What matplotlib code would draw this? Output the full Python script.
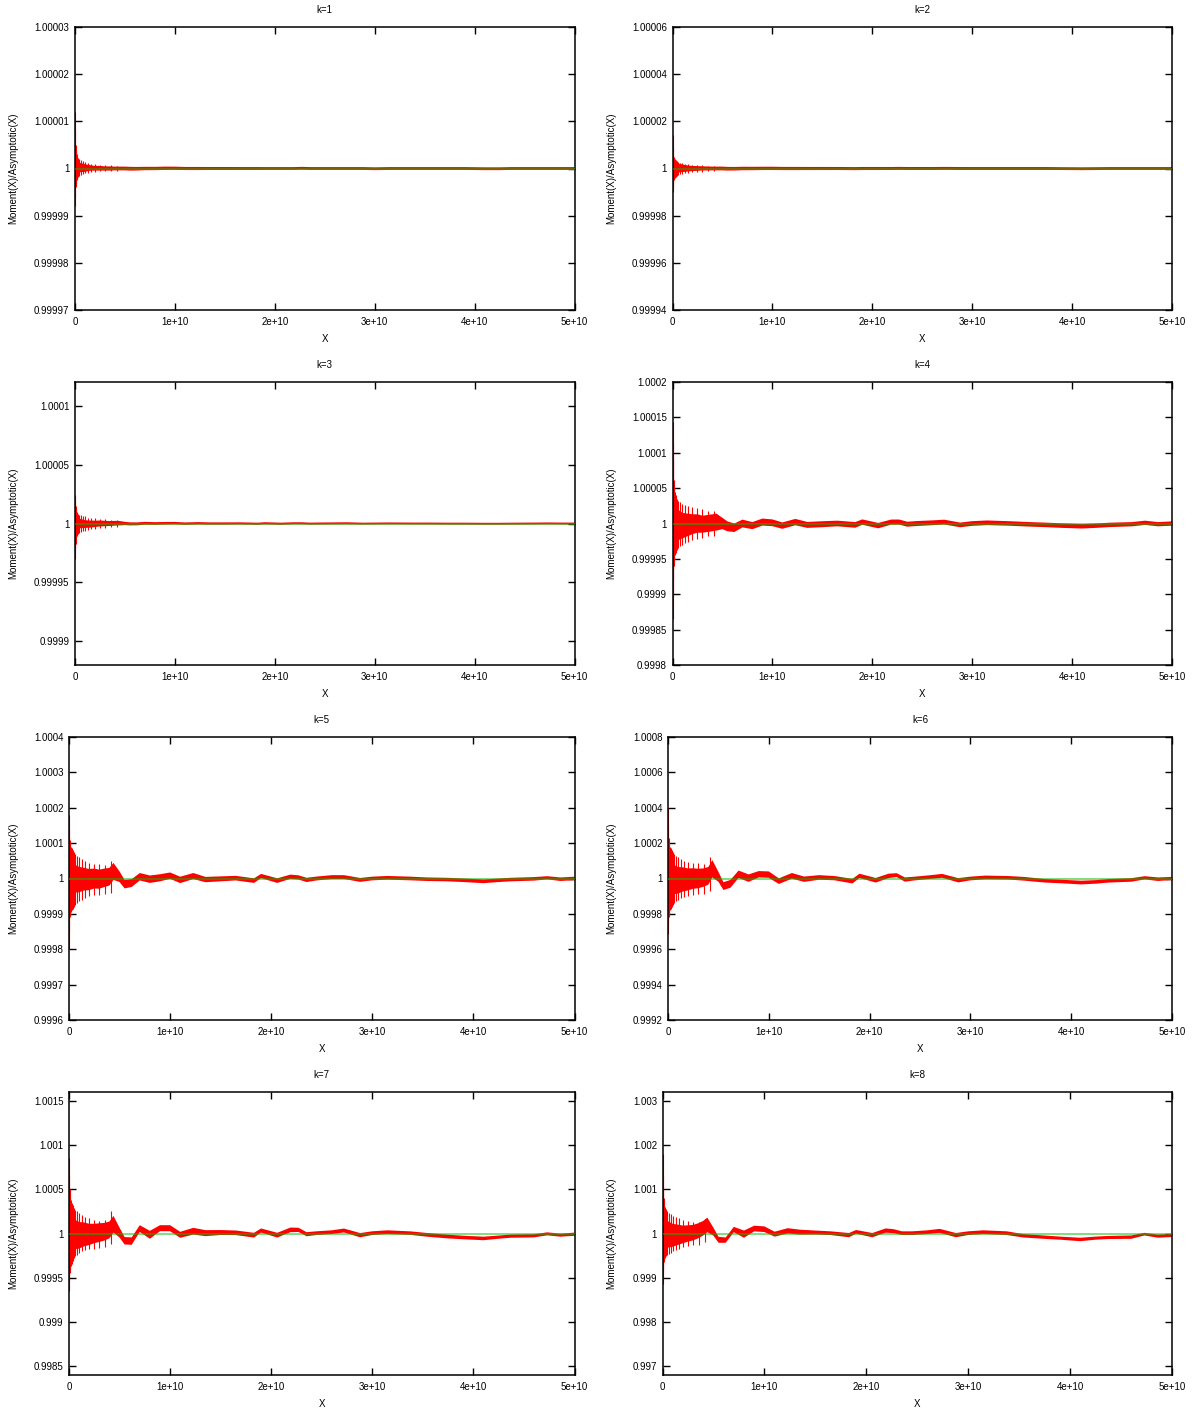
import numpy as np
import matplotlib
matplotlib.use("Agg")
import matplotlib.pyplot as plt
from matplotlib.ticker import FixedLocator, FormatStrFormatter

plt.rcParams["font.family"] = ["Liberation Sans", "DejaVu Sans"]
plt.rcParams["font.size"] = 7

# x positions of the band samples (units of 1e10)
x_knots = [0, 0.02, 0.05, 0.1, 0.15, 0.2, 0.25, 0.3, 0.35, 0.4, 0.44,
           0.5, 0.55, 0.62, 0.7, 0.8, 0.9, 1.0, 1.1, 1.23,
           1.35, 1.5, 1.65, 1.83, 1.9, 2.06, 2.19, 2.27, 2.35, 2.45,
           2.6, 2.72, 2.88, 3.0, 3.15, 3.38, 3.54, 3.74, 3.9, 4.1,
           4.25, 4.37, 4.6, 4.73, 4.86, 5.0]

# band centre and half width of Moment/Asymptotic - 1, in ppm
center_k1 = [0.4, 0.3, 0.2, 0.1, 0.1, 0.05, 0.05, 0, 0, 0, 0,
             0, -0.05, -0.05, 0, 0, 0.05, 0.05, 0, 0,
             0, 0, 0, 0, 0, 0, 0, 0.05, 0, 0,
             0, 0, 0, -0.05, 0, 0, 0, 0, 0, -0.05,
             -0.05, 0, 0, 0, 0, 0]
halfw_k1 = [2.0, 1.5, 1.0, 0.8, 0.6, 0.5, 0.5, 0.45, 0.45, 0.4, 0.4,
            0.4, 0.4, 0.38, 0.36, 0.35, 0.35, 0.34, 0.33, 0.33,
            0.32, 0.32, 0.31, 0.31, 0.3, 0.3, 0.3, 0.3, 0.3, 0.3,
            0.3, 0.3, 0.3, 0.3, 0.3, 0.3, 0.3, 0.3, 0.3, 0.3,
            0.3, 0.3, 0.3, 0.3, 0.3, 0.3]

center_k2 = [0.5, 0.3, 0.2, 0.1, 0, 0, 0, 0.05, 0, 0, 0,
             0, -0.1, -0.1, 0, 0, 0.05, 0.05, 0, 0,
             0, 0, 0, -0.05, 0, 0, 0, 0.05, 0, 0,
             0, 0.05, 0, 0, 0, 0, 0, 0, -0.05, -0.1,
             -0.05, 0, 0, 0, 0, 0]
halfw_k2 = [3.5, 2.5, 2.0, 1.6, 1.3, 1.1, 1.0, 0.9, 0.85, 0.8, 0.8,
            0.8, 0.78, 0.76, 0.74, 0.72, 0.7, 0.7, 0.68, 0.68,
            0.66, 0.66, 0.65, 0.65, 0.65, 0.65, 0.64, 0.64, 0.64, 0.64,
            0.63, 0.63, 0.63, 0.62, 0.62, 0.62, 0.62, 0.62, 0.6, 0.6,
            0.6, 0.6, 0.6, 0.6, 0.6, 0.6]

center_k3 = [0, 0, 0, -0.5, -0.5, -0.3, 0, 0, 0, 0.2, 0.3,
             0, -0.3, -0.3, 0.2, 0, 0.2, 0.3, -0.1, 0.2,
             0, 0, 0.1, -0.2, 0.2, -0.2, 0.2, 0.2, -0.1, 0,
             0.1, 0.2, -0.1, 0, 0.1, 0, 0, -0.1, -0.1, -0.2,
             -0.2, -0.1, 0, 0.1, 0, 0]
halfw_k3 = [7, 5, 4, 3.3, 3, 2.7, 2.5, 2.3, 2.1, 2.0, 1.9,
            1.4, 1.3, 1.25, 1.2, 1.15, 1.1, 1.05, 1.0, 1.0,
            0.95, 0.95, 0.9, 0.9, 0.9, 0.9, 0.85, 0.85, 0.85, 0.85,
            0.85, 0.85, 0.8, 0.8, 0.8, 0.8, 0.8, 0.8, 0.8, 0.8,
            0.8, 0.8, 0.8, 0.8, 0.8, 0.8]

center_k4 = [0, 0, -2, -3, -2, -1, 0, -1, 0, 1, 2,
             0, -4, -6, 0, -3, 2, 1, -3, 2,
             -2, -1, 0, -2, 2, -3, 2, 2, -1, 0,
             1, 2, -2, 0, 1, 0, -1, -2, -3, -4,
             -3, -2, -1, 1, -1, 0]
halfw_k4 = [35, 28, 22, 18, 16, 14, 13, 12, 12, 12, 12,
            8, 7, 6, 5.5, 5, 5, 4.8, 4.5, 4.5,
            4.2, 4.2, 4, 4, 3.8, 3.8, 3.6, 3.6, 3.5, 3.5,
            3.4, 3.4, 3.3, 3.3, 3.3, 3.2, 3.2, 3.2, 3.2, 3.1,
            3.1, 3.1, 3, 3, 3, 3]

center_k5 = [0, 0, 0, -3, -2, -3, 0, -2, 2, 5, 20,
             5, -16, -13, 5, -2, 2, 8, -4, 7,
             -3, -1, 1, -6, 7, -6, 5, 3, -4, 0,
             4, 4, -4, 0, 2, 0, -2, -3, -5, -8,
             -5, -3, -1, 2, -2, 0]
halfw_k5 = [50, 45, 40, 36, 32, 30, 28, 27, 26, 25, 24,
            15, 12, 11, 10.5, 10.5, 10, 9, 9, 8.5,
            7.5, 7, 6.5, 6.5, 6, 6.5, 6, 6, 6, 5.5,
            5.5, 5.5, 5.5, 5.2, 5.2, 5.2, 5, 5, 5, 5.2,
            5, 5, 5, 4.5, 5, 5]

center_k6 = [0, 0, -5, -10, -5, -5, 0, 0, 5, 15, 55,
             10, -43, -30, 24, 2, 24, 22, -15, 15,
             -4, 6, 2, -15, 15, -10, 15, 19, -6, 0,
             8, 15, -10, 0, 6, 4, -2, -13, -17, -23,
             -19, -13, -8, 4, -4, 0]
halfw_k6 = [110, 95, 85, 75, 68, 62, 58, 55, 52, 50, 49,
            28, 22, 22, 21, 21, 18, 18, 16, 16,
            15, 13, 12, 13, 12, 13, 12.5, 11, 12, 10.5,
            10.5, 11, 12, 10.5, 10.5, 10, 10.5, 10, 10, 10.5,
            10, 10, 10, 9, 10, 9]

center_k7 = [0, 0, -10, -20, -10, -10, 0, 10, 20, 40, 105,
             10, -82, -86, 56, -15, 60, 60, -15, 26,
             4, 11, 8, -19, 34, -19, 41, 41, -8, 4,
             15, 34, -19, 4, 15, 4, -15, -34, -45, -56,
             -41, -30, -26, -4, -19, -8]
halfw_k7 = [220, 190, 170, 150, 135, 120, 110, 105, 100, 95, 94,
            56, 42, 42, 38, 45, 34, 34, 34, 38,
            34, 28, 26, 27, 23, 27, 26, 24, 23, 21,
            21, 22, 24, 21, 21, 20, 21, 21, 20, 20,
            18, 18, 18, 17, 17, 18]

center_k8 = [0, 0, -20, -40, -30, -20, 0, 20, 60, 120, 195,
             40, -142, -150, 90, -15, 112, 97, -15, 60,
             30, 22, 7, -37, 37, -37, 67, 52, 7, 7,
             30, 60, -37, 7, 30, 7, -52, -82, -105, -135,
             -105, -90, -82, -15, -60, -45]
halfw_k8 = [420, 360, 300, 260, 230, 200, 185, 175, 170, 165, 165,
            90, 68, 60, 60, 82, 64, 64, 56, 60,
            56, 45, 42, 48, 42, 48, 48, 45, 42, 42,
            42, 45, 48, 42, 42, 42, 38, 38, 35, 39,
            35, 35, 38, 30, 35, 35]

# isolated spikes near X = 0 (units of 1e10), extents in ppm
spike_x = [0.0, 0.004, 0.008, 0.012, 0.018, 0.025, 0.035, 0.045, 0.06,
           0.08, 0.1, 0.13, 0.16, 0.2, 0.25, 0.3, 0.36, 0.42]
spike_hi_k1 = [12, 8, 5, 4, 3, 2.5, 2.2, 2, 1.8, 1.5, 1.3, 1.1, 1, 0.9, 0.8, 0.8, 0.7, 0.6]
spike_lo_k1 = [-8, -6, -4, -3, -2.5, -2, -1.8, -1.5, -1.3, -1.2, -1, -0.9, -0.8, -0.7, -0.6, -0.6, -0.5, -0.5]
spike_hi_k2 = [14, 9, 6, 5, 4.5, 4, 3.5, 3, 2.8, 2.5, 2.2, 2, 1.8, 1.6, 1.4, 1.3, 1.2, 1.1]
spike_lo_k2 = [-10, -8, -6, -5, -4.5, -4, -3.5, -3, -2.6, -2.4, -2.2, -2, -1.8, -1.6, -1.4, -1.3, -1.2, -1.1]
spike_hi_k3 = [24, 20, 15, 12, 10, 9, 8, 7, 7, 6, 6, 5, 5, 4.5, 4, 3.5, 3.2, 3]
spike_lo_k3 = [-30, -22, -17, -13, -11, -10, -9, -8, -7, -6.5, -6, -5.5, -5, -4.5, -4, -3.5, -3.2, -3]
spike_hi_k4 = [143, 114, 90, 62, 50, 44, 40, 35, 32, 30, 28, 26, 25, 23, 22, 20, 18, 18]
spike_lo_k4 = [-135, -102, -78, -60, -50, -45, -42, -38, -35, -32, -30, -28, -26, -24, -22, -20, -18, -17]
spike_hi_k5 = [180, 140, 110, 95, 90, 85, 80, 75, 70, 65, 60, 55, 50, 45, 42, 40, 38, 50]
spike_lo_k5 = [-200, -150, -110, -100, -95, -90, -85, -80, -75, -70, -65, -60, -55, -50, -48, -46, -44, -40]
spike_hi_k6 = [400, 300, 230, 200, 180, 175, 160, 150, 140, 130, 120, 110, 100, 95, 90, 85, 80, 120]
spike_lo_k6 = [-315, -260, -220, -200, -180, -170, -160, -150, -140, -130, -120, -110, -105, -100, -95, -90, -85, -70]
spike_hi_k7 = [850, 650, 500, 420, 380, 340, 320, 290, 270, 250, 230, 210, 190, 170, 150, 140, 150, 250]
spike_lo_k7 = [-650, -550, -450, -400, -370, -340, -310, -280, -260, -240, -220, -200, -190, -180, -170, -160, -150, -120]
spike_hi_k8 = [1800, 1300, 1000, 800, 700, 600, 550, 500, 470, 440, 400, 370, 340, 310, 280, 260, 270, 330]
spike_lo_k8 = [-1150, -900, -750, -650, -600, -550, -500, -480, -460, -440, -400, -370, -340, -310, -290, -270, -250, -200]

asymptotic_ratio = 1.0

y_ticks = [
    [0.99997, 0.99998, 0.99999, 1, 1.00001, 1.00002, 1.00003],
    [0.99994, 0.99996, 0.99998, 1, 1.00002, 1.00004, 1.00006],
    [0.9999, 0.99995, 1, 1.00005, 1.0001],
    [0.9998, 0.99985, 0.9999, 0.99995, 1, 1.00005, 1.0001, 1.00015, 1.0002],
    [0.9996, 0.9997, 0.9998, 0.9999, 1, 1.0001, 1.0002, 1.0003, 1.0004],
    [0.9992, 0.9994, 0.9996, 0.9998, 1, 1.0002, 1.0004, 1.0006, 1.0008],
    [0.9985, 0.999, 0.9995, 1, 1.0005, 1.001, 1.0015],
    [0.997, 0.998, 0.999, 1, 1.001, 1.002, 1.003],
]
y_limits = [(0.99997, 1.00003), (0.99994, 1.00006), (0.99988, 1.00012),
            (0.9998, 1.0002), (0.9996, 1.0004), (0.9992, 1.0008),
            (0.9984, 1.0016), (0.9968, 1.0032)]
x_ticks_e10 = [0, 1, 2, 3, 4, 5]

centers = [center_k1, center_k2, center_k3, center_k4, center_k5, center_k6, center_k7, center_k8]
halfws = [halfw_k1, halfw_k2, halfw_k3, halfw_k4, halfw_k5, halfw_k6, halfw_k7, halfw_k8]
spike_his = [spike_hi_k1, spike_hi_k2, spike_hi_k3, spike_hi_k4,
             spike_hi_k5, spike_hi_k6, spike_hi_k7, spike_hi_k8]
spike_los = [spike_lo_k1, spike_lo_k2, spike_lo_k3, spike_lo_k4,
             spike_lo_k5, spike_lo_k6, spike_lo_k7, spike_lo_k8]

# layout in pixels
W, H = 1195, 1411
lefts = [75, 672.5, 75, 672.5, 69, 668, 69, 662.5]
rights = [574.5, 1172, 574.5, 1172, 574.5, 1172, 574.5, 1172]
tops = [27, 382, 737, 1092]
bottoms = [310, 665, 1020, 1375]
ylabel_x = [18, 616]

fig = plt.figure(figsize=(W / 100, H / 100), dpi=100)

for i in range(8):
    row, col = i // 2, i % 2
    l, r = lefts[i], rights[i]
    t, b = tops[row], bottoms[row]
    ax = fig.add_axes([l / W, 1 - b / H, (r - l) / W, (b - t) / H])

    x = np.array(x_knots) * 1e10
    c = np.array(centers[i])
    h = np.array(halfws[i])
    ax.fill_between(x, 1 + (c - h) * 1e-6, 1 + (c + h) * 1e-6,
                    facecolor="#ff0000", edgecolor="none", lw=0, zorder=2)
    ax.vlines(np.array(spike_x) * 1e10,
              1 + np.array(spike_los[i]) * 1e-6,
              1 + np.array(spike_his[i]) * 1e-6,
              colors="#ff0000", lw=0.8, zorder=2)
    ax.axhline(asymptotic_ratio, color="#00c000", lw=1.3, alpha=0.55, zorder=3)

    ax.set_xlim(0, 5e10)
    ax.set_ylim(*y_limits[i])
    ax.xaxis.set_major_locator(FixedLocator([v * 1e10 for v in x_ticks_e10]))
    ax.xaxis.set_major_formatter(FormatStrFormatter("%g"))
    ax.yaxis.set_major_locator(FixedLocator(y_ticks[i]))
    ax.yaxis.set_major_formatter(FormatStrFormatter("%.6g"))
    ax.tick_params(direction="in", length=5, width=1, top=True, right=True,
                   labelsize=7, colors="black")
    ax.tick_params(axis="x", pad=5)
    ax.tick_params(axis="y", pad=4)
    for s in ax.spines.values():
        s.set_linewidth(1.1)

    ax.set_title(f"k={i + 1}", fontsize=7, pad=10)
    ax.set_xlabel("X", fontsize=7, labelpad=5)
    ax.set_ylabel("Moment(X)/Asymptotic(X)", fontsize=7)
    ax.yaxis.set_label_coords((ylabel_x[col] - l) / (r - l), 0.5)

fig.savefig("out.png", dpi=100)
